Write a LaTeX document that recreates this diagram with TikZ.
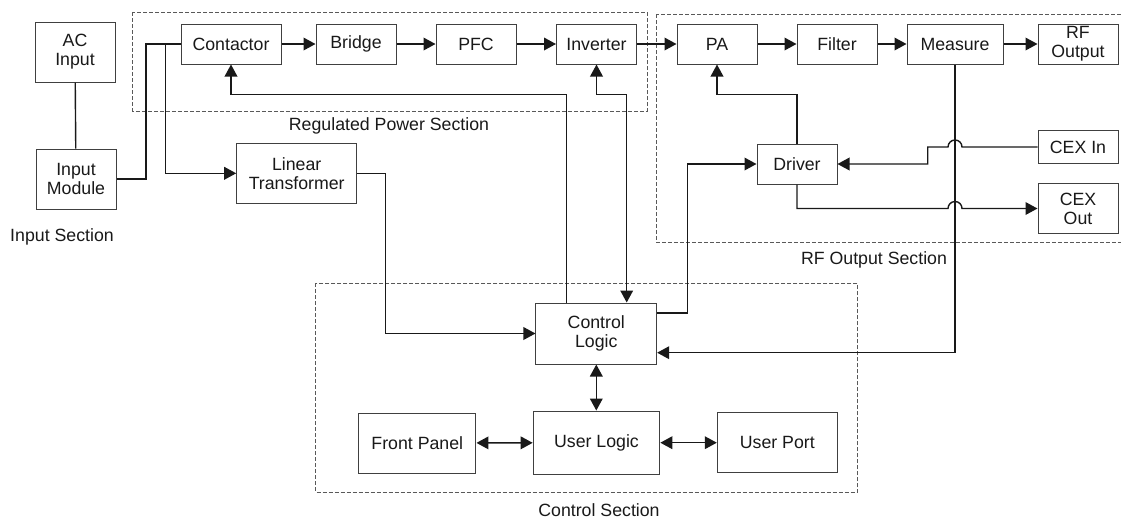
\documentclass[tikz,border=0pt]{standalone}
\usepackage{fontspec}
\setmainfont{Liberation Sans}
\usetikzlibrary{arrows.meta,calc}

\begin{document}
\begin{tikzpicture}[
    x=0.75pt, y=-0.75pt,
    every node/.style={font=\fontsize{13.3}{14.3}\selectfont, text=black!90},
    block/.style={draw=black!75, line width=0.75pt, fill=white, align=center, inner sep=1pt, minimum width=60pt, minimum height=30pt},
    section/.style={draw=black!65, line width=0.75pt, dash pattern=on 3pt off 1.5pt},
    link/.style={line width=1.05pt, black!90},
    arrow/.style={link, -{Triangle[length=9pt,width=9.5pt]}},
    biarrow/.style={link, {Triangle[length=9pt,width=9.5pt]}-{Triangle[length=9pt,width=9.5pt]}}
]
\useasboundingbox (0,0) rectangle (1121,519);

\draw[section] (132.5,12.3) rectangle (647,111);
\draw[section] (656.5,14) rectangle (1128,242.7);
\draw[section] (315.7,283.3) rectangle (857.3,492.5);

\node (lblin) at (62,237) {Input Section};
\node (lblpow) at (389,126) {Regulated Power Section};
\node (lblrf) at (874,260) {RF Output Section};
\node (lblctrl) at (599,510) {Control Section};

\node[block, minimum height=45pt] (acin) at (75,52) {AC\\Input};
\node[block, minimum height=45pt] (inmod) at (76,179) {Input\\Module};
\node[block, minimum width=75pt] (contactor) at (231,44) {Contactor};
\node[block] (bridge) at (356,44) {Bridge};
\node[block] (pfc) at (476,44) {PFC};
\node[block] (inverter) at (596.5,44) {Inverter};
\node[block] (pa) at (717,44) {PA};
\node[block] (filter) at (837,44) {Filter};
\node[block, minimum width=72pt] (measure) at (955,44) {Measure};
\node[block] (rfout) at (1078,44) {RF\\Output};
\node[block, minimum height=24.5pt] (cexin) at (1078,147) {CEX In};
\node[block, minimum height=37.5pt] (cexout) at (1078,208.5) {CEX\\Out};
\node[block] (driver) at (797,164) {Driver};
\node[block, minimum width=90pt, minimum height=45pt] (ltrans) at (296.7,173.3) {Linear\\Transformer};
\node[block, minimum width=90.5pt, minimum height=45.75pt] (ctrl) at (596.3,333.5) {Control\\Logic};
\node[block, minimum width=88pt, minimum height=45pt] (fpanel) at (417.3,443) {Front Panel};
\node[block, minimum width=95pt, minimum height=47.5pt] (ulogic) at (596.5,442.7) {User Logic};
\node[block, minimum width=90pt, minimum height=45pt] (uport) at (777.3,442.7) {User Port};

\coordinate (split) at (146,44);
\coordinate (tap) at (165.7,44);
\coordinate (fbc) at (566.7,94.3);
\coordinate (fbi) at (626.7,94.7);
\coordinate (drvtap) at (687.7,313);
\coordinate (jog) at (927.7,147);
\coordinate (hop1) at (measure.south |- cexin.west);
\coordinate (hop2) at (measure.south |- cexout.west);
\coordinate (msr) at (955,352.7);
\coordinate (ltc) at (385.7,333.5);

\draw[link] (acin) -- (inmod);
\draw[link] (inmod.east) -| (split) -- (contactor.west);
\draw[arrow] (tap) |- (ltrans.west);
\draw[arrow] (contactor) -- (bridge);
\draw[arrow] (bridge) -- (pfc);
\draw[arrow] (pfc) -- (inverter);
\draw[arrow] (inverter) -- (pa);
\draw[arrow] (pa) -- (filter);
\draw[arrow] (filter) -- (measure);
\draw[arrow] (measure) -- (rfout);
\draw[arrow] (ctrl.north -| fbc) -- (fbc) -| (contactor.south);
\draw[biarrow] (ctrl.north -| fbi) -- (fbi) -| (inverter.south);
\draw[arrow] (driver.north) -- (driver.north |- fbc) -| (pa.south);
\draw[arrow] (ctrl.east |- drvtap) -- (drvtap) |- (driver.west);
\draw[arrow] (cexin.west) -- ([xshift=5.25pt]hop1) arc[start angle=0, end angle=180, radius=5.25pt] -- (jog) |- (driver.east);
\draw[arrow] (driver.south) |- ([xshift=-5.25pt]hop2) arc[start angle=180, end angle=0, radius=5.25pt] -- (cexout.west);
\draw[arrow] (measure.south) -- (msr) -- (ctrl.east |- msr);
\draw[arrow] (ltrans.east) -| (ltc) -- (ctrl.west);
\draw[biarrow] (ctrl.south) -- (ctrl.south |- ulogic.north);
\draw[biarrow] (fpanel) -- (ulogic);
\draw[biarrow] (ulogic) -- (uport);
\end{tikzpicture}
\end{document}
